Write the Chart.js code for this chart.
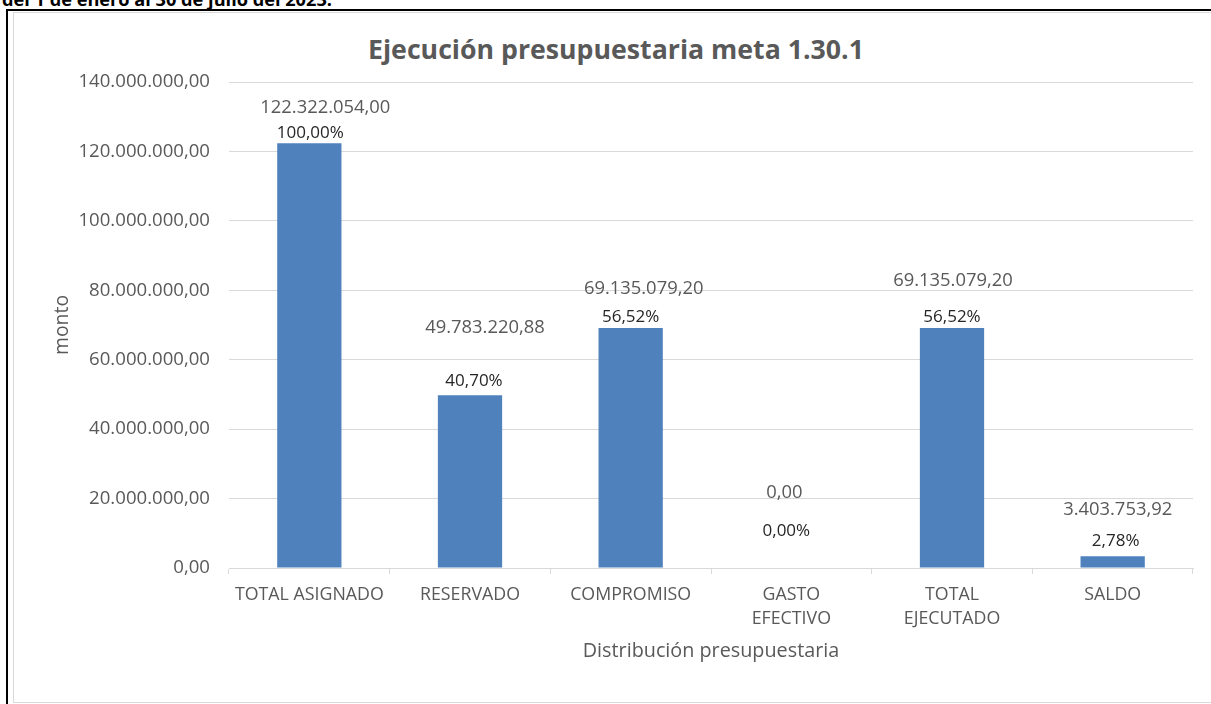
<!DOCTYPE html>
<html>
<head>
<meta charset="utf-8">
<script src="https://cdn.jsdelivr.net/npm/chart.js@4.4.1/dist/chart.umd.min.js"></script>
<style>
  html, body { margin: 0; padding: 0; background: #fff; width: 1211px; height: 704px; overflow: hidden; }
  #caption { position: absolute; left: 2px; top: -11px; font: bold 18.2px "Open Sans", sans-serif; line-height: 20px; color: #000; white-space: nowrap; }
  #frame { position: absolute; left: 6px; top: 9px; width: 1240px; height: 720px; border-top: 2px solid #000; border-left: 2px solid #000; }
  #inner { position: absolute; left: 13px; top: 12px; width: 1220px; height: 689px; border: 1px solid #D9D9D9; }
  #title { position: absolute; left: 0; width: 1232px; top: 30px; line-height: 34px; text-align: center; font: bold 26.7px "Open Sans", sans-serif; color: #595959; }
  canvas { position: absolute; left: 0; top: 0; }
</style>
</head>
<body>
<div id="caption">del 1 de enero al 30 de julio del 2023.</div>
<div id="frame"></div>
<div id="inner"></div>
<div id="title">Ejecución presupuestaria meta 1.30.1</div>
<canvas id="c" width="1211" height="704"></canvas>
<script>
// ---- data ----
const categories = ["TOTAL ASIGNADO", "RESERVADO", "COMPROMISO", ["GASTO", "EFECTIVO"], ["TOTAL", "EJECUTADO"], "SALDO"];
const montos = [122322054.00, 49783220.88, 69135079.20, 0.00, 69135079.20, 3403753.92];
const porcentajes = [100.00, 40.70, 56.52, 0.00, 56.52, 2.78];
const yTickValues = [0, 20000000, 40000000, 60000000, 80000000, 100000000, 120000000, 140000000];

const FONT = '"Open Sans", sans-serif';

function fmtNum(v) {
  const parts = v.toFixed(2).split('.');
  return parts[0].replace(/\B(?=(\d{3})+(?!\d))/g, '.') + ',' + parts[1];
}
function fmtPct(v) { return v.toFixed(2).replace('.', ',') + '%'; }

const barLabels = {
  id: 'barLabels',
  afterDatasetsDraw(chart, args, opts) {
    const meta = chart.getDatasetMeta(0);
    const ctx = chart.ctx;
    ctx.save();
    ctx.textAlign = 'center';
    ctx.textBaseline = 'middle';
    meta.data.forEach((bar, i) => {
      ctx.font = opts.valueSize + 'px ' + FONT;
      ctx.fillStyle = opts.valueColor;
      ctx.fillText(fmtNum(montos[i]), bar.x + opts.valueDx[i], bar.y + opts.valueDy[i]);
      ctx.font = opts.pctSize + 'px ' + FONT;
      ctx.fillStyle = opts.pctColor;
      ctx.fillText(fmtPct(porcentajes[i]), bar.x + opts.pctDx[i], bar.y + opts.pctDy[i]);
    });
    ctx.restore();
  }
};

new Chart(document.getElementById('c'), {
  type: 'bar',
  data: {
    labels: categories,
    datasets: [{
      data: montos,
      backgroundColor: '#4F81BD',
      borderWidth: 0,
      barPercentage: 0.4,
      categoryPercentage: 1.0
    }]
  },
  plugins: [barLabels],
  options: {
    responsive: false,
    animation: false,
    layout: { padding: { top: 82, right: 18, left: 0, bottom: 0 } },
    plugins: {
      legend: { display: false },
      tooltip: { enabled: false },
      title: { display: false },
      barLabels: {
        valueSize: 18.4,
        pctSize: 17,
        valueColor: '#595959',
        pctColor: '#262626',
        valueDx: [16, 15, 13, -7, 1, 5],
        valueDy: [-36, -67, -39, -75, -47, -46],
        pctDx: [1, 4, 0, -5, 0, 3],
        pctDy: [-10, -14, -11, -37, -11, -15]
      }
    },
    scales: {
      x: {
        grid: { drawOnChartArea: false, drawTicks: true, tickLength: 6, color: '#D9D9D9', offset: true },
        border: { color: '#D9D9D9' },
        ticks: { color: '#595959', font: { family: FONT, size: 17.8, lineHeight: 1.4 }, padding: 8, maxRotation: 0, autoSkip: false },
        title: { display: true, text: 'Distribución presupuestaria', color: '#595959', font: { family: FONT, size: 19.8, lineHeight: 1.2 }, padding: { top: 0, bottom: 41 } },
        afterFit: s => { s.height = 136; }
      },
      y: {
        min: 0,
        max: 140000000,
        afterBuildTicks: s => { s.ticks = yTickValues.map(v => ({ value: v })); },
        ticks: { color: '#595959', font: { family: FONT, size: 18.6 }, padding: 19, callback: v => fmtNum(v) },
        grid: { color: '#D9D9D9', drawTicks: false },
        border: { display: false },
        title: { display: true, text: 'monto', color: '#595959', font: { family: FONT, size: 19.4, lineHeight: 1.2 }, padding: { top: 51, bottom: 0 } },
        afterFit: s => { s.width = 229; }
      }
    }
  }
});
</script>
</body>
</html>
